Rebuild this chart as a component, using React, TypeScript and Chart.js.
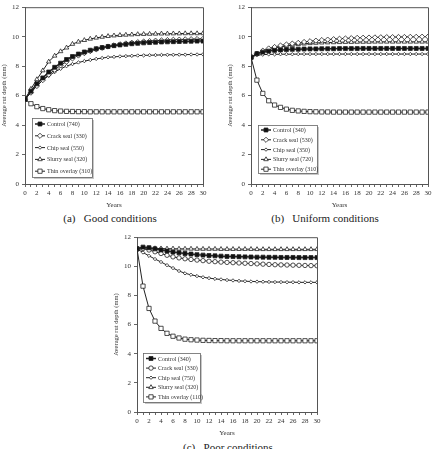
import React, { useEffect, useRef } from "react";
import { Chart, registerables } from "chart.js";

Chart.register(...registerables);

const YEARS = [0, 1, 2, 3, 4, 5, 6, 7, 8, 9, 10, 11, 12, 13, 14, 15, 16, 17, 18, 19, 20, 21, 22, 23, 24, 25, 26, 27, 28, 29, 30];
const Y_TICK_STEP = 2;

// (a) Good conditions
const GOOD_LABELS = ["Control (740)", "Crack seal (330)", "Chip seal (550)", "Slurry seal (320)", "Thin overlay (310)"];
const GOOD_CONTROL = [5.75, 6.3, 6.8, 7.2, 7.6, 7.92, 8.2, 8.45, 8.65, 8.82, 8.96, 9.08, 9.18, 9.26, 9.33, 9.39, 9.44, 9.48, 9.52, 9.55, 9.58, 9.6, 9.62, 9.64, 9.65, 9.66, 9.67, 9.68, 9.69, 9.7, 9.7];
const GOOD_CRACK = [5.75, 6.2, 6.65, 7.05, 7.42, 7.75, 8.05, 8.3, 8.52, 8.72, 8.88, 9.02, 9.14, 9.24, 9.33, 9.41, 9.48, 9.54, 9.59, 9.63, 9.67, 9.7, 9.73, 9.75, 9.77, 9.79, 9.8, 9.82, 9.83, 9.84, 9.85];
const GOOD_CHIP = [5.75, 6.25, 6.68, 7.05, 7.35, 7.6, 7.82, 8.0, 8.14, 8.25, 8.34, 8.42, 8.49, 8.55, 8.6, 8.63, 8.66, 8.68, 8.7, 8.72, 8.73, 8.74, 8.75, 8.76, 8.77, 8.77, 8.78, 8.78, 8.79, 8.79, 8.8];
const GOOD_SLURRY = [5.75, 6.45, 7.1, 7.7, 8.3, 8.7, 9.0, 9.25, 9.5, 9.65, 9.76, 9.85, 9.92, 9.98, 10.03, 10.07, 10.1, 10.12, 10.14, 10.16, 10.17, 10.18, 10.19, 10.2, 10.2, 10.21, 10.21, 10.22, 10.22, 10.22, 10.22];
const GOOD_THIN = [5.75, 5.45, 5.25, 5.12, 5.04, 4.98, 4.95, 4.93, 4.92, 4.91, 4.91, 4.9, 4.9, 4.9, 4.9, 4.9, 4.9, 4.9, 4.9, 4.9, 4.9, 4.9, 4.9, 4.9, 4.9, 4.9, 4.9, 4.9, 4.9, 4.9, 4.9];

// (b) Uniform conditions
const UNI_LABELS = ["Control (340)", "Crack seal (530)", "Chip seal (350)", "Slurry seal (720)", "Thin overlay (310)"];
const UNI_CONTROL = [8.6, 8.85, 8.95, 9.02, 9.07, 9.1, 9.12, 9.14, 9.15, 9.16, 9.17, 9.17, 9.18, 9.18, 9.18, 9.19, 9.19, 9.19, 9.19, 9.2, 9.2, 9.2, 9.2, 9.2, 9.2, 9.2, 9.2, 9.2, 9.2, 9.2, 9.2];
const UNI_CRACK = [8.6, 8.85, 9.05, 9.2, 9.3, 9.4, 9.47, 9.53, 9.58, 9.64, 9.69, 9.73, 9.77, 9.8, 9.83, 9.86, 9.88, 9.9, 9.92, 9.93, 9.94, 9.95, 9.96, 9.97, 9.97, 9.98, 9.98, 9.99, 9.99, 10.0, 10.0];
const UNI_CHIP = [8.6, 8.75, 8.78, 8.8, 8.8, 8.81, 8.81, 8.81, 8.82, 8.82, 8.82, 8.82, 8.82, 8.82, 8.82, 8.82, 8.82, 8.82, 8.82, 8.82, 8.82, 8.82, 8.82, 8.82, 8.82, 8.82, 8.82, 8.82, 8.82, 8.82, 8.82];
const UNI_SLURRY = [8.6, 8.83, 9.0, 9.12, 9.22, 9.3, 9.37, 9.43, 9.48, 9.52, 9.55, 9.57, 9.59, 9.6, 9.61, 9.62, 9.63, 9.63, 9.64, 9.64, 9.64, 9.65, 9.65, 9.65, 9.65, 9.65, 9.65, 9.65, 9.65, 9.65, 9.65];
const UNI_THIN = [8.6, 7.05, 6.15, 5.65, 5.36, 5.2, 5.08, 5.0, 4.96, 4.93, 4.91, 4.9, 4.89, 4.89, 4.88, 4.88, 4.88, 4.88, 4.88, 4.88, 4.88, 4.88, 4.88, 4.88, 4.88, 4.88, 4.88, 4.88, 4.88, 4.88, 4.88];

// (c) Poor conditions
const POOR_LABELS = ["Control (340)", "Crack seal (330)", "Chip seal (750)", "Slurry seal (320)", "Thin overlay (110)"];
const POOR_CONTROL = [11.2, 11.32, 11.28, 11.2, 11.12, 11.05, 10.98, 10.93, 10.88, 10.84, 10.8, 10.77, 10.74, 10.72, 10.7, 10.68, 10.67, 10.66, 10.65, 10.64, 10.63, 10.63, 10.62, 10.62, 10.61, 10.61, 10.61, 10.6, 10.6, 10.6, 10.6];
const POOR_CRACK = [11.2, 11.22, 11.12, 11.0, 10.88, 10.76, 10.65, 10.58, 10.52, 10.47, 10.43, 10.39, 10.35, 10.32, 10.29, 10.27, 10.25, 10.23, 10.21, 10.19, 10.17, 10.15, 10.13, 10.11, 10.1, 10.09, 10.08, 10.07, 10.06, 10.05, 10.04];
const POOR_CHIP = [11.2, 10.95, 10.72, 10.5, 10.3, 10.08, 9.88, 9.68, 9.52, 9.42, 9.33, 9.25, 9.19, 9.14, 9.1, 9.06, 9.03, 9.0, 8.98, 8.96, 8.95, 8.94, 8.93, 8.92, 8.92, 8.91, 8.91, 8.9, 8.9, 8.9, 8.9];
const POOR_SLURRY = [11.2, 11.25, 11.24, 11.23, 11.22, 11.21, 11.21, 11.2, 11.2, 11.2, 11.19, 11.19, 11.19, 11.19, 11.18, 11.18, 11.18, 11.18, 11.18, 11.18, 11.17, 11.17, 11.17, 11.17, 11.17, 11.17, 11.17, 11.17, 11.17, 11.17, 11.17];
const POOR_THIN = [11.2, 8.64, 7.11, 6.24, 5.74, 5.4, 5.2, 5.08, 5.0, 4.96, 4.94, 4.92, 4.91, 4.9, 4.9, 4.89, 4.89, 4.89, 4.89, 4.89, 4.89, 4.89, 4.89, 4.89, 4.89, 4.89, 4.89, 4.89, 4.89, 4.89, 4.89];

const SERIF = '"Liberation Serif", "DejaVu Serif", serif';

type Marker = { style: string; r: number; fill: string; line: number };

const M_CONTROL: Marker = { style: "rect", r: 2.8, fill: "#111", line: 1.5 };
const M_DIAMOND: Marker = { style: "rectRot", r: 2.6, fill: "#fff", line: 1 };
const M_SMALL: Marker = { style: "rectRot", r: 1.7, fill: "#fff", line: 1 };
const M_TRI: Marker = { style: "triangle", r: 2.6, fill: "#fff", line: 1 };
const M_CIRCLE: Marker = { style: "circle", r: 2.2, fill: "#fff", line: 1 };
const M_SQUARE: Marker = { style: "rect", r: 3.0, fill: "#fff", line: 1 };

function drawMarker(ctx: CanvasRenderingContext2D, m: Marker, x: number, y: number) {
  const r = m.r;
  ctx.beginPath();
  if (m.style === "rect") {
    const h = r * Math.SQRT1_2;
    ctx.rect(x - h, y - h, 2 * h, 2 * h);
  } else if (m.style === "rectRot") {
    ctx.moveTo(x, y - r);
    ctx.lineTo(x + r, y);
    ctx.lineTo(x, y + r);
    ctx.lineTo(x - r, y);
    ctx.closePath();
  } else if (m.style === "triangle") {
    ctx.moveTo(x, y - r);
    ctx.lineTo(x + r * 0.87, y + r * 0.5);
    ctx.lineTo(x - r * 0.87, y + r * 0.5);
    ctx.closePath();
  } else {
    ctx.arc(x, y, r, 0, Math.PI * 2);
  }
  ctx.fillStyle = m.fill;
  ctx.fill();
  ctx.strokeStyle = "#222";
  ctx.lineWidth = 0.8;
  ctx.stroke();
}

const framePlugin = {
  id: "frame",
  afterDraw(chart: any) {
    const { ctx, chartArea: a } = chart;
    ctx.save();
    ctx.strokeStyle = "#555";
    ctx.lineWidth = 1;
    ctx.beginPath();
    ctx.moveTo(a.left, a.top + 0.5);
    ctx.lineTo(a.right + 0.5, a.top + 0.5);
    ctx.lineTo(a.right + 0.5, a.bottom);
    ctx.stroke();
    ctx.restore();
  },
};

const legendPlugin = {
  id: "boxLegend",
  afterDraw(chart: any, _args: any, opts: any) {
    const { ctx, chartArea: a } = chart;
    const x = Math.round(a.left + opts.dx);
    const y = Math.round(a.top + opts.dy);
    ctx.save();
    ctx.fillStyle = "#c8c8c8";
    ctx.fillRect(x + 2, y + 2, opts.w, opts.h);
    ctx.fillStyle = "#fff";
    ctx.fillRect(x, y, opts.w, opts.h);
    ctx.strokeStyle = "#666";
    ctx.lineWidth = 0.8;
    ctx.strokeRect(x + 0.5, y + 0.5, opts.w, opts.h);
    chart.data.datasets.forEach((ds: any, i: number) => {
      const ry = y + opts.first + i * opts.row;
      const lx = x + 3;
      const m: Marker = ds.marker;
      ctx.strokeStyle = "#222";
      ctx.lineWidth = m.line;
      ctx.beginPath();
      ctx.moveTo(lx, ry);
      ctx.lineTo(lx + 10, ry);
      ctx.stroke();
      drawMarker(ctx, m, lx + 5, ry);
      ctx.fillStyle = "#333";
      ctx.font = `6px ${SERIF}`;
      ctx.textBaseline = "middle";
      ctx.fillText(ds.label, lx + 12, ry + 0.5);
    });
    ctx.restore();
  },
};

type Series = { label: string; values: number[]; marker: Marker };

type Props = {
  left: number;
  top: number;
  width: number;
  height: number;
  xAxisH: number;
  tickPad: number;
  series: Series[];
  legend: { dx: number; dy: number; w: number; h: number; first: number; row: number };
};

function RutChart({ left, top, width, height, xAxisH, tickPad, series, legend }: Props) {
  const ref = useRef<HTMLCanvasElement>(null);
  useEffect(() => {
    if (!ref.current) return;
    const tickFont = { family: SERIF, size: 7 };
    const chart = new Chart(ref.current, {
      type: "line",
      data: {
        datasets: series.map((s) => ({
          label: s.label,
          data: s.values.map((v, i) => ({ x: YEARS[i], y: v })),
          borderColor: "#222",
          borderWidth: s.marker.line,
          pointStyle: s.marker.style as any,
          pointRadius: s.marker.r,
          pointBackgroundColor: s.marker.fill,
          pointBorderColor: "#222",
          pointBorderWidth: 0.8,
          tension: 0,
          marker: s.marker,
        })) as any,
      },
      options: {
        responsive: false,
        animation: false,
        layout: { padding: { left: 0, top: 7, right: width - 25 - 178 < 0 ? 0 : 12, bottom: 0 } },
        plugins: {
          legend: { display: false },
          tooltip: { enabled: false },
          boxLegend: legend,
        } as any,
        scales: {
          x: {
            type: "linear",
            min: 0,
            max: 30,
            ticks: {
              stepSize: 1,
              autoSkip: false,
              maxRotation: 0,
              padding: tickPad,
              color: "#333",
              font: tickFont,
              callback: (v: any) => (Number(v) % 2 === 0 ? String(v) : ""),
            },
            grid: { drawOnChartArea: false, tickLength: 3, color: "#666" },
            border: { color: "#555", width: 1 },
            title: { display: true, text: "Years", color: "#333", font: { family: SERIF, size: 7 }, padding: 0 },
            afterFit: (s: any) => {
              s.height = xAxisH;
            },
          },
          y: {
            min: 0,
            max: 12,
            ticks: { stepSize: Y_TICK_STEP, padding: 3, color: "#333", font: tickFont },
            grid: { drawOnChartArea: false, tickLength: 3, color: "#666" },
            border: { color: "#555", width: 1 },
            title: {
              display: true,
              text: "Average rut depth (mm)",
              color: "#333",
              font: { family: SERIF, size: 6.5 },
              padding: 0,
            },
            afterFit: (s: any) => {
              s.width = 25;
            },
          },
        },
      },
      plugins: [framePlugin, legendPlugin],
    });
    return () => chart.destroy();
  }, []);
  return (
    <canvas
      ref={ref}
      width={width}
      height={height}
      style={{ position: "absolute", left, top, width, height }}
    />
  );
}

const captionStyle: React.CSSProperties = {
  position: "absolute",
  fontFamily: SERIF,
  fontSize: 11,
  color: "#222",
  textAlign: "center",
  whiteSpace: "pre",
  lineHeight: "13px",
};

export default function App() {
  const goodSeries: Series[] = [
    { label: GOOD_LABELS[0], values: GOOD_CONTROL, marker: M_CONTROL },
    { label: GOOD_LABELS[1], values: GOOD_CRACK, marker: M_DIAMOND },
    { label: GOOD_LABELS[2], values: GOOD_CHIP, marker: M_SMALL },
    { label: GOOD_LABELS[3], values: GOOD_SLURRY, marker: M_TRI },
    { label: GOOD_LABELS[4], values: GOOD_THIN, marker: M_SQUARE },
  ];
  const uniSeries: Series[] = [
    { label: UNI_LABELS[0], values: UNI_CONTROL, marker: M_CONTROL },
    { label: UNI_LABELS[1], values: UNI_CRACK, marker: M_DIAMOND },
    { label: UNI_LABELS[2], values: UNI_CHIP, marker: M_SMALL },
    { label: UNI_LABELS[3], values: UNI_SLURRY, marker: M_TRI },
    { label: UNI_LABELS[4], values: UNI_THIN, marker: M_SQUARE },
  ];
  const poorSeries: Series[] = [
    { label: POOR_LABELS[0], values: POOR_CONTROL, marker: M_CONTROL },
    { label: POOR_LABELS[1], values: POOR_CRACK, marker: M_CIRCLE },
    { label: POOR_LABELS[2], values: POOR_CHIP, marker: M_SMALL },
    { label: POOR_LABELS[3], values: POOR_SLURRY, marker: M_TRI },
    { label: POOR_LABELS[4], values: POOR_THIN, marker: M_SQUARE },
  ];
  return (
    <div style={{ position: "absolute", left: 0, top: 0, width: 439, height: 449, background: "#fff", overflow: "hidden" }}>
      <RutChart
        left={0}
        top={0}
        width={215}
        height={209}
        xAxisH={25}
        tickPad={2}
        series={goodSeries}
        legend={{ dx: 7, dy: 111, w: 60, h: 59, first: 6, row: 11.8 }}
      />
      <RutChart
        left={226}
        top={0}
        width={214}
        height={209}
        xAxisH={25}
        tickPad={2}
        series={uniSeries}
        legend={{ dx: 7, dy: 118, w: 59, h: 48, first: 5, row: 9.8 }}
      />
      <RutChart
        left={112}
        top={230}
        width={217}
        height={207}
        xAxisH={25}
        tickPad={1.5}
        series={poorSeries}
        legend={{ dx: 6, dy: 116, w: 57, h: 49, first: 5.5, row: 9.6 }}
      />
      <div style={{ ...captionStyle, left: 0, top: 212, width: 220 }}>{"(a)   Good conditions"}</div>
      <div style={{ ...captionStyle, left: 220, top: 212, width: 210 }}>{"(b)   Uniform conditions"}</div>
      <div style={{ ...captionStyle, left: 128, top: 441, width: 200 }}>{"(c)   Poor conditions"}</div>
    </div>
  );
}
